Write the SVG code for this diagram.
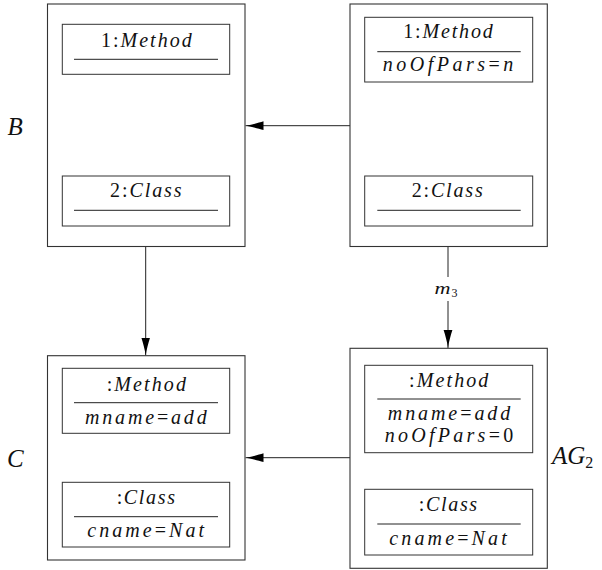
<svg xmlns="http://www.w3.org/2000/svg" width="602" height="570" viewBox="0 0 602 570">
<style>
.outer{fill:#fff;stroke:#333;stroke-width:1.1}
.inner{fill:#fff;stroke:#333;stroke-width:1}
.sep{stroke:#222;stroke-width:1}
.t{font-family:"Liberation Serif","Times New Roman",serif;font-style:italic;font-size:20px;fill:#111;text-anchor:middle}
.u{font-style:normal}
.lbl{font-family:"Liberation Serif","Times New Roman",serif;font-style:italic;font-size:25px;fill:#111}
.conn{fill:none;stroke:#222;stroke-width:1;marker-end:url(#arr)}
</style>
<defs>
<marker id="arr" viewBox="0 0 18 10" refX="18" refY="5" markerWidth="18" markerHeight="10" markerUnits="userSpaceOnUse" orient="auto">
<path d="M18,5 C12,4.2 5,2.2 0,0.6 L0,9.4 C5,7.8 12,5.8 18,5 Z" fill="#000"/>
</marker>
</defs>

<g id="connectors">
<path class="conn" d="M350,125.7 H245.5"/>
<path class="conn" d="M145.7,246.5 V355.5"/>
<path class="conn" d="M448,246.5 V277 M448,301 V348"/>
<path class="conn" d="M350,457.7 H245.5"/>
<text x="434.5" y="293.5" font-family="Liberation Serif, serif" font-style="italic" font-size="17" textLength="16" lengthAdjust="spacingAndGlyphs" fill="#111">m</text>
<text x="451.5" y="297" font-family="Liberation Serif, serif" font-size="12" fill="#111">3</text>
</g>

<g id="node_B">
<rect class="outer" x="47.5" y="4" width="197.5" height="242.5"/>
<rect class="inner" x="62.3" y="24.3" width="167.4" height="50"/>
<text class="t" x="146.3" y="46.7" textLength="90.7" lengthAdjust="spacing"><tspan class="u">1:</tspan>Method</text>
<line class="sep" x1="74" y1="59.3" x2="218" y2="59.3"/>
<rect class="inner" x="62.3" y="176" width="167.4" height="50"/>
<text class="t" x="145.8" y="197" textLength="71.7" lengthAdjust="spacing"><tspan class="u">2:</tspan>Class</text>
<line class="sep" x1="74" y1="210.3" x2="218" y2="210.3"/>
<text class="lbl" x="7.5" y="135">B</text>
</g>

<g id="node_top_right">
<rect class="outer" x="350" y="4" width="197.3" height="242.5"/>
<rect class="inner" x="364.7" y="17.3" width="168" height="64.7"/>
<text class="t" x="448" y="38.3" textLength="89.4" lengthAdjust="spacing"><tspan class="u">1:</tspan>Method</text>
<line class="sep" x1="377.3" y1="51.7" x2="520.7" y2="51.7"/>
<text class="t" x="448" y="70.7" textLength="130.6" lengthAdjust="spacing">noOfPars<tspan class="u">=</tspan>n</text>
<rect class="inner" x="364.7" y="176" width="168" height="50"/>
<text class="t" x="447.2" y="197" textLength="71" lengthAdjust="spacing"><tspan class="u">2:</tspan>Class</text>
<line class="sep" x1="377.3" y1="210.3" x2="520.7" y2="210.3"/>
</g>

<g id="node_C">
<rect class="outer" x="47.5" y="355.7" width="197.5" height="204.3"/>
<rect class="inner" x="62.3" y="368.3" width="167.4" height="65"/>
<text class="t" x="146.3" y="391" textLength="79.3" lengthAdjust="spacing"><tspan class="u">:</tspan>Method</text>
<line class="sep" x1="74" y1="402.7" x2="218" y2="402.7"/>
<text class="t" x="145.8" y="424" textLength="121.7" lengthAdjust="spacing">mname<tspan class="u">=</tspan>add</text>
<rect class="inner" x="62.3" y="482.3" width="167.4" height="64.7"/>
<text class="t" x="145.8" y="504" textLength="58.3" lengthAdjust="spacing"><tspan class="u">:</tspan>Class</text>
<line class="sep" x1="74" y1="516.7" x2="218" y2="516.7"/>
<text class="t" x="145.7" y="536.7" textLength="116.7" lengthAdjust="spacing">cname<tspan class="u">=</tspan>Nat</text>
<text class="lbl" x="7" y="466.5">C</text>
</g>

<g id="node_AG2">
<rect class="outer" x="350" y="348.3" width="197.3" height="220"/>
<rect class="inner" x="364.7" y="365.3" width="168" height="87.4"/>
<text class="t" x="448.7" y="386.7" textLength="79.3" lengthAdjust="spacing"><tspan class="u">:</tspan>Method</text>
<line class="sep" x1="377.3" y1="399" x2="520.7" y2="399"/>
<text class="t" x="449" y="420" textLength="122.5" lengthAdjust="spacing">mname<tspan class="u">=</tspan>add</text>
<text class="t" x="449" y="441.7" textLength="128.3" lengthAdjust="spacing">noOfPars<tspan class="u">=0</tspan></text>
<rect class="inner" x="364.7" y="489.3" width="168" height="65.7"/>
<text class="t" x="448" y="510.7" textLength="58.3" lengthAdjust="spacing"><tspan class="u">:</tspan>Class</text>
<line class="sep" x1="377.3" y1="524" x2="520.7" y2="524"/>
<text class="t" x="448" y="545" textLength="117.4" lengthAdjust="spacing">cname<tspan class="u">=</tspan>Nat</text>
<text class="lbl" x="552" y="464">AG<tspan font-size="16" font-style="normal" dy="4">2</tspan></text>
</g>
</svg>
